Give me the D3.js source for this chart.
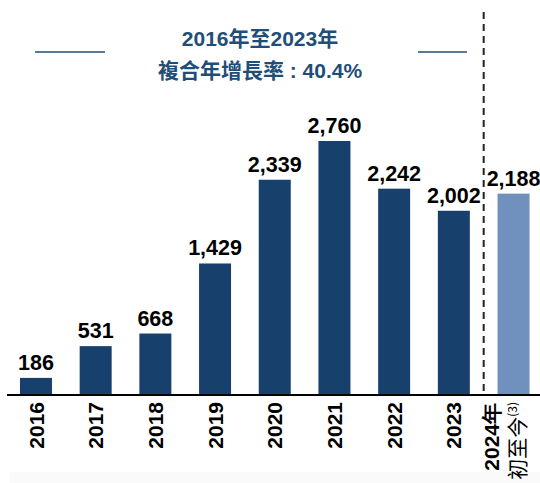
<!DOCTYPE html>
<html>
<head>
<meta charset="utf-8">
<script src="https://cdn.jsdelivr.net/npm/d3@7"></script>
<style>
  body { margin: 0; background: #fff; }
  svg { display: block; font-family: "Liberation Sans", Arial, "Noto Sans CJK TC", sans-serif; }
</style>
</head>
<body>
<div class="graph"></div>
<script>
// 데이터
const years = ["2016", "2017", "2018", "2019", "2020", "2021", "2022", "2023", "2024"];
const values = [186, 531, 668, 1429, 2339, 2760, 2242, 2002, 2188];
const titleLines = ["2016年至2023年", "複合年增長率 : 40.4%"];

const width = 540;
const height = 483;
const axisY = 395;

const darkColor = "#17406d";
const lightColor = "#7090bd";
const titleColor = "#1f4e79";

const svg = d3.select(".graph").append("svg")
  .attr("width", width)
  .attr("height", height);

// 아래쪽 옅은 배경
svg.append("rect")
  .attr("x", 10).attr("y", 472)
  .attr("width", width - 10).attr("height", height - 472)
  .attr("fill", "#fafafa");

const x = d3.scaleBand()
  .domain(years)
  .range([14, 535.5])
  .paddingInner(0.464)
  .paddingOuter(0.1);

const y = d3.scaleLinear()
  .domain([0, 2760])
  .range([axisY, 141]);

// 막대
svg.selectAll("rect.bar")
  .data(years)
  .join("rect")
  .attr("class", "bar")
  .attr("x", d => x(d))
  .attr("y", (d, i) => y(values[i]))
  .attr("width", x.bandwidth())
  .attr("height", (d, i) => axisY - y(values[i]))
  .attr("fill", d => d === "2024" ? lightColor : darkColor);

// 막대 위 값
svg.selectAll("text.val")
  .data(years)
  .join("text")
  .attr("class", "val")
  .attr("x", d => x(d) + x.bandwidth() / 2)
  .attr("y", (d, i) => y(values[i]) - 8)
  .attr("text-anchor", "middle")
  .attr("font-size", 21.5)
  .attr("font-weight", "bold")
  .attr("fill", "#000")
  .text((d, i) => d3.format(",")(values[i]));

// 점선 구분
const sepX = (x("2023") + x.bandwidth() + x("2024")) / 2;
svg.append("line")
  .attr("x1", sepX).attr("x2", sepX)
  .attr("y1", 12).attr("y2", axisY)
  .attr("stroke", "#222")
  .attr("stroke-width", 2)
  .attr("stroke-dasharray", "7,5");

// x축
const xAxisG = svg.append("g")
  .attr("transform", `translate(0,${axisY})`)
  .call(d3.axisBottom(x).tickSize(0).tickSizeOuter(0));
xAxisG.select(".domain").remove();
xAxisG.append("line")
  .attr("x1", 7).attr("x2", width)
  .attr("stroke", "#000").attr("stroke-width", 2);

xAxisG.selectAll(".tick text")
  .attr("transform", "rotate(-90)")
  .attr("x", -7)
  .attr("y", 0)
  .attr("dy", "0.36em")
  .attr("text-anchor", "end")
  .attr("font-size", 21)
  .attr("font-weight", "bold")
  .attr("fill", "#000")
  .attr("font-family", "'Liberation Sans', Arial, sans-serif");

// 2024년 라벨 (두 줄)
const lastTick = xAxisG.selectAll(".tick text").filter(d => d === "2024");
lastTick.text(null).attr("dy", null);
lastTick.append("tspan").attr("x", -8).attr("y", -15).text("2024年");
const line2 = lastTick.append("tspan").attr("x", -7).attr("y", 11)
  .attr("font-weight", "normal")
  .attr("font-family", "'Noto Sans CJK TC', sans-serif")
  .attr("font-size", 21);
line2.append("tspan").text("初至今");
line2.append("tspan").attr("font-size", 12).attr("dy", -8).text("(3)");

// 제목
const title = svg.append("g");
title.selectAll("text")
  .data(titleLines)
  .join("text")
  .attr("x", 260)
  .attr("y", (d, i) => 46 + i * 32)
  .attr("text-anchor", "middle")
  .attr("font-size", 21)
  .attr("font-weight", "bold")
  .attr("fill", titleColor)
  .attr("font-family", "'Liberation Sans', Arial, 'Noto Sans CJK TC', sans-serif")
  .text(d => d);

title.append("line")
  .attr("x1", 35).attr("x2", 105).attr("y1", 52).attr("y2", 52)
  .attr("stroke", titleColor).attr("stroke-width", 1.5);
title.append("line")
  .attr("x1", 418).attr("x2", 467).attr("y1", 52).attr("y2", 52)
  .attr("stroke", titleColor).attr("stroke-width", 1.5);
</script>
</body>
</html>
